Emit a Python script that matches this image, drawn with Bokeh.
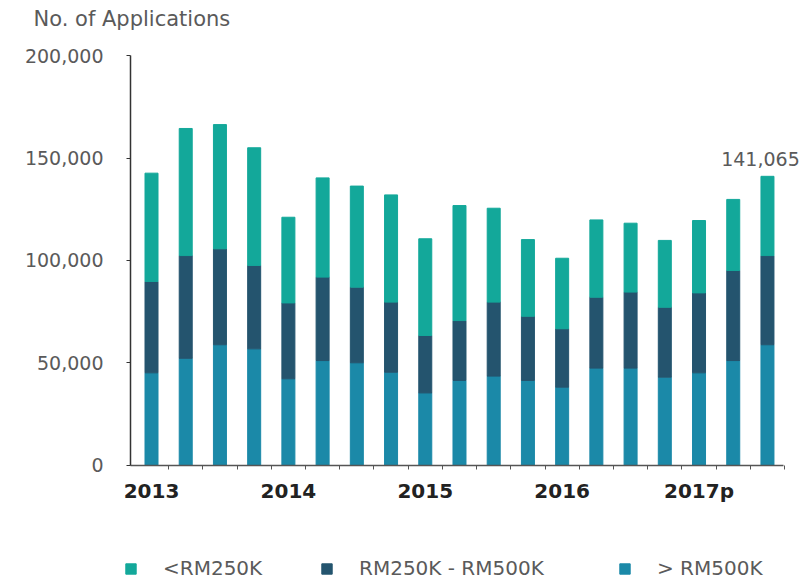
from bokeh.plotting import figure
from bokeh.models import (ColumnDataSource, Range1d, FixedTicker, Legend, LegendItem,
                          Label, NumeralTickFormatter)
from bokeh.embed import file_html
from bokeh.resources import INLINE

periods = ["2013Q1", "2013Q2", "2013Q3", "2013Q4",
           "2014Q1", "2014Q2", "2014Q3", "2014Q4",
           "2015Q1", "2015Q2", "2015Q3", "2015Q4",
           "2016Q1", "2016Q2", "2016Q3", "2016Q4",
           "2017Q1", "2017Q2", "2017Q3"]
year_labels = {0: "2013", 4: "2014", 8: "2015", 12: "2016", 16: "2017p"}
y_ticks = [0, 50000, 100000, 150000, 200000]

above_500k = [45200, 52300, 58900, 56900, 42300, 51200, 50100, 45500, 35400, 41500,
              43600, 41500, 38200, 47500, 47500, 43100, 45200, 51200, 58900]
rm250_500k = [44600, 50100, 46800, 40700, 37000, 40700, 36900, 34200, 28000, 29200,
              36100, 31300, 28500, 34600, 37100, 34100, 39000, 43900, 43500]
below_250k = [52800, 62000, 60600, 57400, 41800, 48400, 49300, 52300, 47200, 56100,
              45800, 37400, 34400, 37700, 33600, 32600, 35300, 34700, 38665]
last_total_label = "141,065"

series = ["above", "mid", "below"]
series_names = ["> RM500K", "RM250K - RM500K", "<RM250K"]
colors = ["#1b89a8", "#24546e", "#13a89a"]

x = list(range(len(periods)))
src = ColumnDataSource(dict(x=x, above=above_500k, mid=rm250_500k, below=below_250k))

FONT = "DejaVu Sans"
GRAY = "#5a5a5a"

# the frame covers the whole canvas; axes are pinned at fixed locations
X0, X1 = -4.413, 19.053
Y0, Y1 = -58050, 226830
AX_LEFT, AX_RIGHT = -0.614, 18.47

p = figure(width=803, height=584, output_backend="svg", toolbar_location=None,
           x_range=Range1d(X0, X1), y_range=Range1d(Y0, Y1),
           min_border_left=0, min_border_right=0, min_border_top=0,
           min_border_bottom=0, title=None)
p.outline_line_color = None
p.grid.visible = False
p.background_fill_color = "white"

renderers = p.vbar_stack(series, x="x", width=0.38, color=colors, source=src)

# y axis
p.yaxis.fixed_location = AX_LEFT
p.yaxis.bounds = (0, 200000)
p.yaxis.ticker = FixedTicker(ticks=y_ticks)
p.yaxis.formatter = NumeralTickFormatter(format="0,0")
p.yaxis.axis_line_color = "#333333"
p.yaxis.axis_line_width = 1.5
p.yaxis.major_tick_line_color = "#333333"
p.yaxis.major_tick_out = 4
p.yaxis.major_tick_in = 0
p.yaxis.minor_tick_line_color = None
p.yaxis.major_label_standoff = 23
p.yaxis.major_label_text_font = FONT
p.yaxis.major_label_text_font_size = "19px"
p.yaxis.major_label_text_color = GRAY

# x axis
p.xaxis.fixed_location = 0
p.xaxis.ticker = FixedTicker(ticks=list(year_labels.keys()),
                             minor_ticks=[i + 0.5 for i in range(len(periods))])
p.xaxis.bounds = (AX_LEFT, AX_RIGHT)
p.xaxis.major_label_overrides = year_labels
p.xaxis.axis_line_color = "#555555"
p.xaxis.axis_line_width = 1.5
p.xaxis.major_tick_line_color = None
p.xaxis.major_tick_out = 4
p.xaxis.minor_tick_line_color = "#555555"
p.xaxis.minor_tick_out = 4
p.xaxis.minor_tick_in = 0
p.xaxis.major_label_standoff = 10
p.xaxis.major_label_text_font = FONT
p.xaxis.major_label_text_font_style = "bold"
p.xaxis.major_label_text_font_size = "20px"
p.xaxis.major_label_text_color = "#222222"

# title
p.add_layout(Label(x=X0, y=Y1, x_offset=33, y_offset=-18, text="No. of Applications",
                   text_font=FONT, text_font_size="21px", text_color=GRAY,
                   text_align="left", text_baseline="middle"))

# total label on last bar
total_last = above_500k[-1] + rm250_500k[-1] + below_250k[-1]
p.add_layout(Label(x=x[-1], y=total_last, x_offset=-7, y_offset=10, text=last_total_label,
                   text_font=FONT, text_font_size="19px", text_color=GRAY,
                   text_align="center", text_baseline="bottom"))

# legends at the bottom
legend_x = {2: 124, 1: 320, 0: 618}
for i in [2, 1, 0]:
    lg = Legend(items=[LegendItem(label=series_names[i], renderers=[renderers[i]])],
                location=(legend_x[i], 4), orientation="horizontal",
                label_text_font=FONT, label_text_font_size="20px",
                label_text_color=GRAY, glyph_width=13, glyph_height=13,
                label_standoff=26, padding=0, margin=0, spacing=0,
                border_line_color=None, background_fill_alpha=0)
    p.add_layout(lg, "center")

open("out.html", "w").write(file_html(p, INLINE))
